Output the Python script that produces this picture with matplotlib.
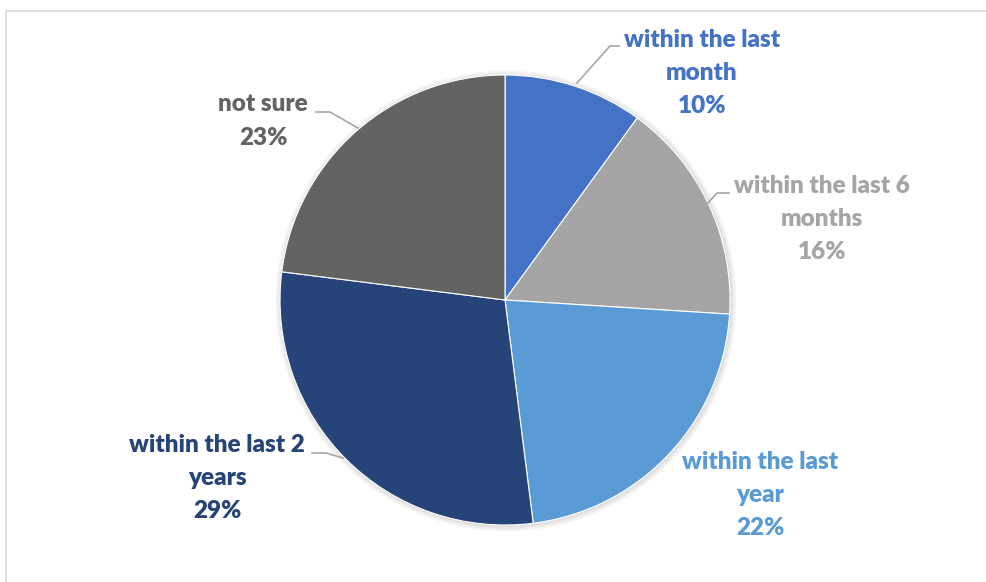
import matplotlib
matplotlib.use("Agg")
import matplotlib.pyplot as plt
import numpy as np

categories = ["within the last\nmonth", "within the last 6\nmonths", "within the last\nyear",
              "within the last 2\nyears", "not sure"]
values = [10, 16, 22, 29, 23]
pct_labels = ["10%", "16%", "22%", "29%", "23%"]
colors = ["#4472C4", "#A5A5A5", "#5B9BD5", "#264478", "#636363"]

W, H = 987, 582
fig = plt.figure(figsize=(W / 100, H / 100), dpi=100)
ax = fig.add_axes([0, 0, 1, 1])

cx, cy, R = 505, H - 300, 225

# frame (cropped chart area border)
ax.plot([5.5, 5.5, W], [0, H - 10.5, H - 10.5], color="#D9D9D9", lw=1.2, solid_capstyle="butt")

# soft shadow
for i, a in enumerate([0.03, 0.03, 0.03, 0.03]):
    ax.add_patch(plt.Circle((cx + 1, cy - 1), R + 1 + i * 1.5, color="black", alpha=a, lw=0, zorder=1))

wedges, _ = ax.pie(values, colors=colors, startangle=90, counterclock=False,
                   center=(cx, cy), radius=R, frame=True,
                   wedgeprops=dict(edgecolor="white", linewidth=0.8, zorder=2))
ax.set_xlim(0, W)
ax.set_ylim(0, H)
ax.set_aspect("equal")
ax.axis("off")

# label positions (pixel coords, center of text block) and leader polylines
label_pos = [(702, 73), (822, 219), (760, 495), (217, 478), (263, 121)]
leaders = [
    [(577, 83), (610, 46), (619, 46)],
    [(707, 204), (717, 193), (729, 193)],
    None,
    [(343, 458), (326, 453), (312, 453)],
    [(358, 128), (330, 112), (316, 112)],
]

for cat, pct, col, (lx, ly), ld in zip(categories, pct_labels, colors, label_pos, leaders):
    ax.text(lx, H - ly, cat + "\n" + pct, ha="center", va="center", color=col,
            fontsize=17.5, fontweight="heavy", family=["Lato", "DejaVu Sans"],
            linespacing=1.62, zorder=5)
    if ld:
        xs = [p[0] for p in ld]
        ys = [H - p[1] for p in ld]
        ax.plot(xs, ys, color="#A6A6A6", lw=1.2, zorder=4)

fig.savefig("out.png", dpi=100)
